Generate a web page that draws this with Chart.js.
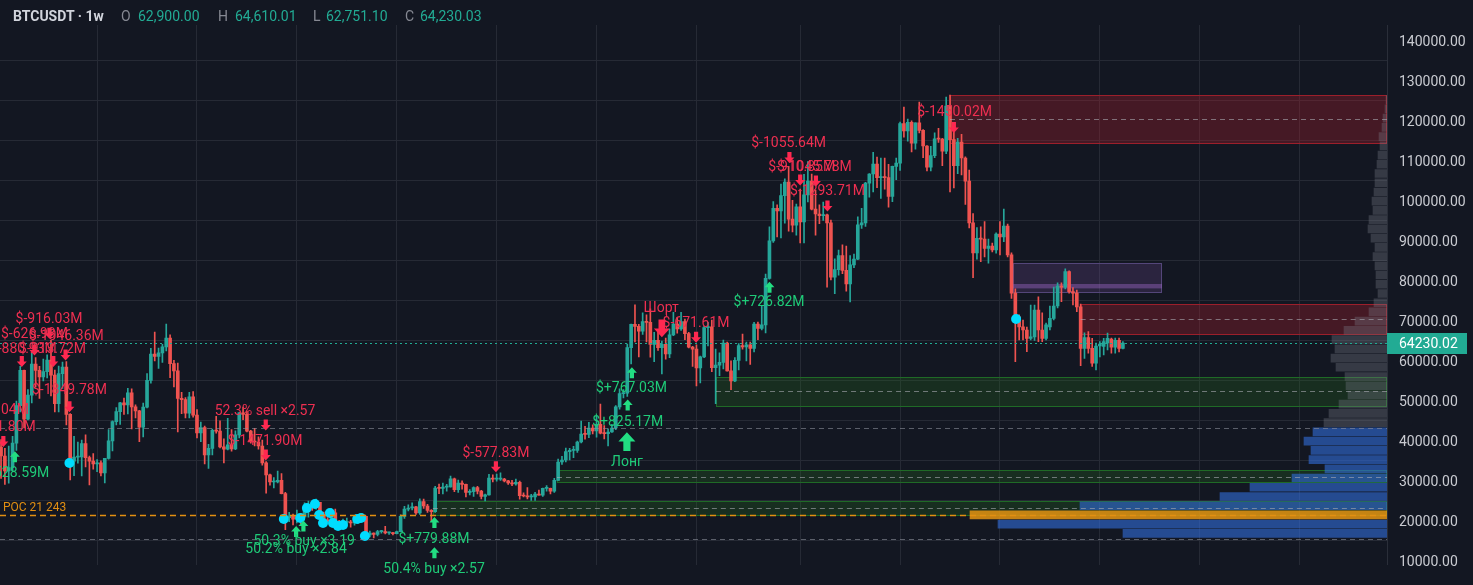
<!DOCTYPE html>
<html lang="en">
<head>
<meta charset="UTF-8">
<title>BTCUSDT · 1w</title>
<script src="https://cdn.jsdelivr.net/npm/chart.js@4.4.1/dist/chart.umd.min.js"></script>
<style>
    body {
        margin: 0;
        background: #131722;
        overflow: hidden;
        font-family: Roboto, sans-serif;
    }
    .wrap {
        position: relative;
        width: 1473px;
        height: 585px;
    }
    #chart {
        position: absolute;
        left: 0;
        top: 0;
    }
    .legend span {
        position: absolute;
        top: 7px;
        font-size: 14px;
        line-height: 18px;
        white-space: nowrap;
    }
    .legend .sym { color: #d1d4dc; font-weight: 700; }
    .legend .k { color: #868993; }
    .legend .v { color: #22ab94; }
</style>
</head>
<body>
<div class="wrap">
    <canvas id="chart" width="1473" height="585"></canvas>
    <div class="legend">
        <span class="sym" style="left:13px">BTCUSDT · 1w</span>
        <span class="k" style="left:121px">O</span><span class="v" style="left:138px">62,900.00</span>
        <span class="k" style="left:218px">H</span><span class="v" style="left:235px">64,610.01</span>
        <span class="k" style="left:313px">L</span><span class="v" style="left:326px">62,751.10</span>
        <span class="k" style="left:405px">C</span><span class="v" style="left:420px">64,230.03</span>
    </div>
</div>

<script>
    // weekly candles in thousands of USDT, bar 0 = week of 4 Jan 2021
    const opens = [
        33.0,38.2,36.0,32.3,33.1,39.2,48.6,57.4,45.2,51.2,59.0,57.4,55.8,57.1,60.0,56.2,49.1,56.6,58.2,46.4,34.7,35.7,35.8,39.1,35.6,34.7,34.0,34.3,31.8,35.4,39.8,44.6,47.1,49.3,48.8,51.8,48.3,47.3,43.2,48.2,54.9,61.5,60.9,61.8,63.3,65.5,59.1,57.3,50.4,50.1,46.7,50.8,
        46.2,41.8,43.1,36.3,37.9,42.4,42.2,38.3,37.7,38.8,37.8,41.3,46.8,46.4,42.2,39.7,39.5,38.5,34.3,31.3,29.5,29.5,29.9,26.6,20.6,21.0,20.2,20.9,20.8,22.6,23.6,23.2,24.4,21.5,20.0,19.8,21.8,19.4,18.8,19.4,19.4,19.3,19.6,20.8,20.9,16.3,16.7,16.4,17.1,17.1,16.8,16.8,
        16.6,17.1,20.9,22.7,23.0,23.3,21.8,24.6,23.5,22.4,22.1,28.0,27.9,28.2,28.3,30.3,27.6,29.2,28.9,26.9,27.1,28.1,27.2,25.9,26.3,30.5,30.2,30.2,30.2,29.8,29.3,29.0,29.4,26.1,26.0,25.8,25.8,26.5,26.2,27.9,27.9,27.2,29.9,34.5,35.0,37.1,37.4,37.4,39.5,41.5,41.4,43.0,
        42.3,43.9,41.7,41.6,42.0,43.0,48.3,51.6,51.7,63.1,68.9,68.4,67.2,69.6,69.4,63.9,64.9,63.1,63.9,61.5,66.3,69.0,67.8,69.6,66.6,63.2,62.7,58.0,60.8,68.1,68.3,58.1,58.7,59.4,64.2,57.3,54.8,59.9,63.6,63.3,63.8,62.9,69.0,67.9,68.8,80.4,89.8,97.9,97.3,101.1,104.5,95.2,93.7,
        98.3,94.5,101.3,104.7,97.7,96.5,96.1,96.3,94.3,80.7,82.6,86.1,82.4,79.0,83.8,85.2,93.8,94.3,104.2,106.5,109.0,105.6,105.7,105.6,100.9,108.4,109.2,119.1,117.3,119.4,114.2,119.3,117.4,113.5,108.2,111.1,115.3,115.2,112.2,123.5,
        115.1,108.6,114.5,110.5,104.7,94.3,86.8,90.4,90.2,87.9,88.5,87.5,91.5,90.8,93.5,86.3,76.7,70.8,68.3,67.5,65.4,65.8,72.5,67.5,65.4,68.3,70.4,73.5,78.5,78.2,82.1,77.1,76.7,73.3,62.9,65.6,62.9,59.2,63.5,63.4,64.3,65.2,63.2,64.9,62.9
    ];
    const highs = [
        41.9,40.1,37.9,38.5,40.9,49.7,58.4,57.5,52.6,61.8,60.6,58.4,60.2,61.3,64.9,57.5,58.5,59.5,59.6,46.6,40.9,39.5,40.0,41.3,36.0,36.6,35.1,34.8,35.4,42.6,44.8,48.1,49.4,50.5,52.9,52.8,48.8,47.4,49.2,56.6,62.9,67.0,63.0,63.9,69.0,66.3,59.9,59.2,51.9,50.6,51.9,52.1,
        47.6,44.5,43.5,38.9,42.7,45.9,44.8,40.3,45.4,42.6,42.3,46.9,48.2,47.2,42.4,42.9,40.8,40.0,34.6,31.5,30.6,32.2,31.6,26.9,21.9,21.5,22.5,21.6,24.3,24.7,23.7,25.2,24.4,22.0,20.6,22.8,22.7,19.9,20.2,20.5,19.9,19.7,21.1,21.5,21.0,17.2,16.8,17.4,17.4,18.4,17.0,16.9,
        17.2,21.3,23.4,23.8,24.3,23.4,25.3,25.2,23.9,22.6,28.4,29.0,29.2,28.9,31.0,30.5,30.0,29.8,29.0,27.6,28.3,28.4,27.4,26.5,31.4,31.3,31.5,31.8,30.4,29.9,29.9,30.2,29.7,26.8,28.1,26.4,26.9,27.5,28.0,28.6,28.0,30.4,35.2,35.9,38.0,37.9,38.4,39.7,44.7,43.4,44.4,43.8,
        45.9,49.0,43.6,42.8,43.9,48.6,52.8,52.6,64.0,69.0,73.8,68.9,71.8,71.3,72.8,66.9,67.2,64.7,65.5,67.7,71.9,70.6,71.9,70.2,66.9,63.4,63.8,61.0,68.4,69.4,70.0,62.7,61.8,65.0,64.5,59.8,60.6,64.1,66.5,64.5,64.5,69.4,69.5,73.6,81.5,93.3,99.6,98.8,104.0,105.3,108.4,99.9,99.0,
        102.7,106.4,109.6,106.5,102.5,98.8,99.5,96.5,95.0,85.3,87.5,88.8,88.5,86.1,86.5,95.8,97.9,104.4,106.6,111.9,110.7,110.5,110.5,108.9,108.5,110.5,119.5,123.2,120.2,119.8,119.3,124.5,117.6,113.6,113.4,116.8,117.9,115.4,125.7,126.2,
        118.0,115.4,116.4,110.8,107.5,96.6,93.1,93.3,94.6,90.2,89.2,91.8,94.6,97.7,94.0,86.8,77.8,71.3,70.0,68.2,73.7,73.7,75.8,71.8,69.2,73.5,78.2,79.3,79.3,82.8,82.3,78.1,77.5,74.0,66.8,67.1,65.4,64.2,64.6,65.4,66.7,65.5,65.5,65.5,64.61
    ];
    const lows = [
        28.1,30.4,28.9,29.2,32.3,37.4,47.0,43.0,45.0,49.3,53.3,50.4,54.8,55.5,51.0,47.0,47.0,52.9,43.8,30.0,31.1,34.2,31.0,33.3,28.8,32.7,32.1,31.0,29.3,35.2,37.3,43.8,43.9,46.4,46.5,42.8,45.5,39.6,40.8,48.0,54.2,59.8,57.9,59.4,62.3,55.6,53.3,42.0,46.6,45.5,45.5,45.7,
        40.5,39.6,34.0,32.9,36.3,41.7,38.0,34.3,37.5,37.2,37.6,40.5,45.1,42.0,39.2,38.5,37.7,33.7,26.7,28.7,28.0,29.3,26.5,17.6,19.6,18.8,19.3,18.9,20.7,20.7,22.4,22.7,20.8,19.8,19.5,18.5,19.3,18.1,18.5,19.1,18.2,18.7,19.2,20.0,15.6,15.8,15.5,16.0,16.7,16.5,16.4,16.3,
        16.5,17.1,20.4,22.3,22.5,21.4,21.4,22.9,21.9,19.6,21.9,26.6,26.5,27.2,28.2,27.1,26.9,27.7,25.8,26.3,25.9,26.5,25.3,24.8,26.2,29.5,29.7,29.9,29.5,28.9,28.6,28.7,25.2,25.8,25.3,24.9,24.9,26.2,25.9,27.2,26.5,26.9,29.9,33.9,34.5,35.0,35.6,36.9,39.3,40.2,40.6,41.5,
        40.7,41.5,40.3,38.5,41.9,42.6,47.7,50.5,50.9,59.0,64.5,60.8,66.4,64.5,60.7,59.6,62.4,56.5,60.2,60.6,66.1,66.7,67.4,65.1,63.0,58.4,53.5,54.3,60.6,63.5,57.1,49.1,56.1,57.8,57.2,52.6,54.6,57.5,62.7,59.8,58.9,62.0,65.1,67.5,66.8,80.2,89.4,90.8,90.5,94.2,92.2,92.0,91.2,
        89.3,89.3,99.5,97.5,91.2,94.1,94.9,78.2,80.0,76.6,81.2,81.6,77.2,74.5,83.1,85.1,92.9,93.4,100.7,102.0,103.1,100.4,102.7,98.2,99.6,105.1,107.4,115.7,114.7,112.0,112.7,116.8,110.6,107.3,107.3,110.6,114.4,108.6,111.6,102.0,
        103.0,106.6,106.3,98.9,93.0,80.6,85.2,84.6,85.8,84.2,87.0,86.7,86.25,89.6,85.8,75.4,59.6,65.0,65.0,62.1,65.0,64.9,64.6,64.6,65.0,67.5,70.0,73.0,74.6,77.8,76.7,73.75,72.1,58.6,60.4,61.7,58.4,57.5,60.8,61.3,62.5,61.7,61.7,62.0,62.751
    ];
    const closes = [
        38.2,36.0,32.3,33.1,39.2,48.6,57.4,45.2,51.2,59.0,57.4,55.8,57.1,60.0,56.2,49.1,56.6,58.2,46.4,34.7,35.7,35.8,39.1,35.6,34.7,34.0,34.3,31.8,35.4,39.8,44.6,47.1,49.3,48.8,51.8,48.3,47.3,43.2,48.2,54.9,61.5,60.9,61.8,63.3,65.5,59.1,57.3,50.4,50.1,46.7,50.8,46.2,
        41.8,43.1,36.3,37.9,42.4,42.2,38.3,37.7,38.8,37.8,41.3,46.8,46.4,42.2,39.7,39.5,38.5,34.3,31.3,29.5,29.5,29.9,26.6,20.6,21.0,20.2,20.9,20.8,22.6,23.6,23.2,24.4,21.5,20.0,19.8,21.8,19.4,18.8,19.4,19.4,19.3,19.6,20.8,20.9,16.3,16.7,16.4,17.1,17.1,16.8,16.8,16.6,
        17.1,20.9,22.7,23.0,23.3,21.8,24.6,23.5,22.4,22.1,28.0,27.9,28.2,28.3,30.3,27.6,29.2,28.9,26.9,27.1,28.1,27.2,25.9,26.3,30.5,30.2,30.2,30.2,29.8,29.3,29.0,29.4,26.1,26.0,25.8,25.8,26.5,26.2,27.9,27.9,27.2,29.9,34.5,35.0,37.1,37.4,37.4,39.5,41.5,41.4,43.0,42.3,
        43.9,41.7,41.6,42.0,43.0,48.3,51.6,51.7,63.1,68.9,68.4,67.2,69.6,69.4,63.9,64.9,63.1,63.9,61.5,66.3,69.0,67.8,69.6,66.6,63.2,62.7,58.0,60.8,68.1,68.3,58.1,58.7,59.4,64.2,57.3,54.8,59.9,63.6,63.3,63.8,62.9,69.0,67.9,68.8,80.4,89.8,97.9,97.3,101.1,104.5,95.2,93.7,98.3,
        94.5,101.3,104.7,97.7,96.5,96.1,96.3,94.3,80.7,82.6,86.1,82.4,79.0,83.8,85.2,93.8,94.3,104.2,106.5,109.0,105.6,105.7,105.6,100.9,108.4,109.2,119.1,117.3,119.4,114.2,119.3,117.4,113.5,108.2,111.1,115.3,115.2,112.2,123.5,115.1,
        108.6,114.5,110.5,104.7,94.3,86.8,90.4,90.2,87.9,88.5,87.5,91.5,90.8,93.5,86.3,76.7,70.8,68.3,67.5,65.4,65.8,72.5,67.5,65.4,68.8,70.4,73.5,78.5,78.2,82.1,77.1,76.7,73.3,62.9,65.6,62.9,59.2,63.5,64.0,64.6,65.4,63.2,64.9,62.9,64.23
    ];

    // price axis ticks (thousands) and time grid (first bar of Jan / Jul)
    const priceTicks = [10, 20, 30, 40, 50, 60, 70, 80, 90, 100, 110, 120, 130, 140];
    const gridWeeks = [26, 52, 78, 104, 130, 156, 182, 209, 235, 261, 287, 313, 339];

    // visible range volume profile: row centres (thousands) and row volume
    const profileRows = [16.65,18.96,21.27,23.57,25.88,28.19,30.49,32.80,35.11,37.41,39.72,42.03,44.34,46.64,48.95,51.26,53.56,55.87,58.18,60.48,62.79,65.10,67.40,69.71,72.02,74.32,76.63,78.94,81.25,83.55,85.86,88.17,90.47,92.78,95.09,97.39,99.70,102.01,104.31,106.62,108.93,111.23,113.54,115.85,118.16,120.46,122.77,125.08];
    const profileVol = [264,389,417,307,167,137,95,62,78,76,83,74,63,58,48,39,41,42,51,56,52,55,43,32,18,13,9,11,11,12,14,12,16,19,18,14,15,13,12,12,10,9,7,8,5,4,2,1];
    const pocRow = 2;
    const valueAreaTop = 11;

    const lastPrice = 64.23;
    const pocPrice = 21.243;
    const levelLines = [43.0, 15.25];

    // zones: start week, top, bottom, end week (null = open), mid line
    const zones = [
        { kind: 'red', from: 248.0, top: 126.25, bottom: 114.25, to: null, mid: 120.2 },
        { kind: 'purple', from: 264.4, top: 84.3, bottom: 77.1, to: 303.2, mid: null },
        { kind: 'red', from: 282.0, top: 74.0, bottom: 66.4, to: null, mid: 70.2 },
        { kind: 'green', from: 187.1, top: 55.75, bottom: 48.5, to: null, mid: 52.2 },
        { kind: 'green', from: 145.7, top: 32.5, bottom: 29.5, to: null, mid: 30.8 },
        { kind: 'green', from: 113.4, top: 24.8, bottom: 21.2, to: null, mid: 23.1 }
    ];
    const purpleBand = [79.0, 77.9];

    // signal markers: [week, price]
    const sellArrows = [[6.4,59.6],[9.7,62.5],[13.6,66.7],[14.6,59.6],[17.8,61.25],[18.8,48.3],[1.6,39.6],
        [69.9,43.75],[69.9,36.25],[129.8,33.3],[181.9,65.7],[206.2,110.6],[209,105],[213.1,104.75],[216.1,98.5],[249.0,118.1]];
    const buyArrows = [[4.6,35.8],[77.8,17.1],[79.7,18.5],[113.8,19.4],[113.8,11.8],[164.1,48.75],[165.2,56.8],[201,78.2]];
    const bigSell = [[173, 67.9]];
    const bigBuy = [[163.9, 39.6]];
    const dots = [[18.8,34.25],[74.6,20.25],[78.9,20.5],[80.6,23],[82.7,24],[83.8,21.25],[84.8,19.25],[86.6,21.75],
        [87.4,19.25],[88.7,18.5],[90.0,18.75],[93.7,20.25],[94.7,20.5],[95.7,16.0],[265.2,70.25]];

    // text labels: [week, price, text, side]
    const labels = [
        [13.5, 70.2, '$-916.03M', 's'],
        [9.7, 66.4, '$-626.98M', 's'],
        [18.0, 65.8, '$-1046.36M', 's'],
        [6.8, 62.75, '$-880.93M', 's'],
        [14.4, 62.75, '$-913.72M', 's'],
        [18.8, 52.3, '$-1849.78M', 's'],
        [-1.5, 47.5, '$-1031.04M', 's'],
        [0.3, 43.25, '$-1021.80M', 's'],
        [4.3, 31.75, '$+528.59M', 'b'],
        [69.7, 47.1, '52.3% sell ×2.57', 's'],
        [69.7, 39.6, '$-1471.90M', 's'],
        [129.8, 36.75, '$-577.83M', 's'],
        [172.8, 72.9, 'Шорт', 's'],
        [181.9, 69.25, '$-671.61M', 's'],
        [206.0, 114.25, '$-1055.64M', 's'],
        [209.4, 108.25, '$-910.85M', 's'],
        [212.7, 108.25, '$-1045.78M', 's'],
        [216.1, 102.25, '$-1293.71M', 's'],
        [249.2, 122.0, '$-1450.02M', 's'],
        [164.1, 44.3, '$+825.17M', 'b'],
        [163.9, 34.3, 'Лонг', 'b'],
        [165.1, 52.9, '$+767.03M', 'b'],
        [200.9, 74.3, '$+726.82M', 'b'],
        [113.7, 15.2, '$+779.88M', 'b'],
        [113.7, 7.7, '50.4% buy ×2.57', 'b'],
        [79.9, 14.6, '50.3% buy ×3.19', 'b'],
        [77.8, 12.7, '50.2% buy ×2.84', 'b']
    ];

    // screen calibration of the reference: bar spacing and price scale
    const PX_PER_WEEK = 3.842;
    const WEEK0_PX = -2.8;
    const ZERO_PRICE_PX = 600;
    const PX_PER_K = 4;

    const UP = '#26a69a';
    const DOWN = '#ef5350';
    const GRID = '#262a35';
    const zoneStyle = {
        red: { fill: 'rgba(178,30,42,0.32)', line: '#9c1f2b' },
        green: { fill: 'rgba(40,120,30,0.24)', line: '#1f6a26' },
        purple: { fill: 'rgba(120,80,160,0.24)', line: '#54467a' }
    };
    const textColor = { s: '#ee2f51', b: '#1fcb78' };
    const arrowColor = { s: '#ff2850', b: '#22dd82' };

    const candleColors = closes.map((c, i) => c >= opens[i] ? UP : DOWN);
    const profileColors = profileVol.map((v, i) => i === pocRow ? 'rgba(228,148,18,0.85)'
        : i <= valueAreaTop ? 'rgba(50,110,220,0.6)' : 'rgba(120,123,134,0.35)');

    function drawArrow(ctx, px, py, up, size, color) {
        const w = size, h = size * 1.1, sw = size * 0.42, s = up ? 1 : -1;
        ctx.fillStyle = color;
        ctx.beginPath();
        ctx.moveTo(px, py - s * h / 2);
        ctx.lineTo(px + w / 2, py);
        ctx.lineTo(px + sw / 2, py);
        ctx.lineTo(px + sw / 2, py + s * h / 2);
        ctx.lineTo(px - sw / 2, py + s * h / 2);
        ctx.lineTo(px - sw / 2, py);
        ctx.lineTo(px - w / 2, py);
        ctx.closePath();
        ctx.fill();
    }

    function hLine(ctx, area, py, color, dash, width) {
        ctx.strokeStyle = color;
        ctx.lineWidth = width;
        ctx.setLineDash(dash);
        ctx.beginPath();
        ctx.moveTo(area.left, Math.round(py) + 0.5);
        ctx.lineTo(area.right, Math.round(py) + 0.5);
        ctx.stroke();
    }

    const overlay = {
        id: 'overlay',
        beforeDatasetsDraw(chart) {
            const { ctx, chartArea: a, scales: { x, y } } = chart;
            ctx.save();
            zones.forEach(z => {
                const x0 = Math.round(x.getPixelForValue(z.from));
                const x1 = z.to == null ? a.right : Math.round(x.getPixelForValue(z.to));
                const y0 = Math.round(y.getPixelForValue(z.top));
                const y1 = Math.round(y.getPixelForValue(z.bottom));
                ctx.fillStyle = zoneStyle[z.kind].fill;
                ctx.fillRect(x0, y0, x1 - x0, y1 - y0);
                ctx.strokeStyle = zoneStyle[z.kind].line;
                ctx.lineWidth = 1;
                ctx.strokeRect(x0 + 0.5, y0 + 0.5, x1 - x0 - 1, y1 - y0);
                if (z.kind === 'purple') {
                    const b0 = y.getPixelForValue(purpleBand[0]);
                    const b1 = y.getPixelForValue(purpleBand[1]);
                    ctx.fillStyle = 'rgba(150,100,190,0.45)';
                    ctx.fillRect(x0, b0, x1 - x0, b1 - b0);
                }
            });
            ctx.restore();
        },
        afterDatasetsDraw(chart) {
            const { ctx, chartArea: a, scales: { x, y } } = chart;
            ctx.save();
            // zone mid lines
            zones.forEach(z => {
                if (z.mid == null) return;
                const x0 = x.getPixelForValue(z.from);
                const x1 = z.to == null ? a.right : x.getPixelForValue(z.to);
                hLine(ctx, { left: x0, right: x1 }, y.getPixelForValue(z.mid), 'rgba(170,172,180,0.6)', [5, 4], 1);
            });
            levelLines.forEach(p => hLine(ctx, a, y.getPixelForValue(p), 'rgba(140,143,155,0.6)', [5, 4], 1));
            hLine(ctx, a, y.getPixelForValue(pocPrice), '#e28f12', [6, 4], 1.5);
            hLine(ctx, a, y.getPixelForValue(lastPrice), '#22ab94', [2, 3], 1);
            ctx.setLineDash([]);

            ctx.font = '12px Roboto, sans-serif';
            ctx.fillStyle = '#e28f12';
            ctx.textAlign = 'left';
            ctx.textBaseline = 'middle';
            ctx.fillText('POC 21 243', a.left + 3, y.getPixelForValue(pocPrice) - 7);

            sellArrows.forEach(p => drawArrow(ctx, x.getPixelForValue(p[0]), y.getPixelForValue(p[1]), false, 10, arrowColor.s));
            buyArrows.forEach(p => drawArrow(ctx, x.getPixelForValue(p[0]), y.getPixelForValue(p[1]), true, 10, arrowColor.b));
            bigSell.forEach(p => drawArrow(ctx, x.getPixelForValue(p[0]), y.getPixelForValue(p[1]), false, 16, arrowColor.s));
            bigBuy.forEach(p => drawArrow(ctx, x.getPixelForValue(p[0]), y.getPixelForValue(p[1]), true, 17, arrowColor.b));

            ctx.font = '14px Roboto, sans-serif';
            ctx.textAlign = 'center';
            labels.forEach(l => {
                ctx.fillStyle = textColor[l[3]];
                ctx.fillText(l[2], x.getPixelForValue(l[0]), y.getPixelForValue(l[1]));
            });
            ctx.restore();
        },
        afterDraw(chart) {
            const { ctx, chartArea: a, scales: { y } } = chart;
            const py = y.getPixelForValue(lastPrice);
            ctx.save();
            ctx.fillStyle = '#22ab94';
            ctx.fillRect(a.right, Math.round(py) - 10, 80, 21);
            ctx.fillStyle = '#ffffff';
            ctx.font = '14px Roboto, sans-serif';
            ctx.textAlign = 'left';
            ctx.textBaseline = 'middle';
            ctx.fillText((lastPrice * 1000 + 0.02).toFixed(2), a.right + 12, Math.round(py) + 1);
            ctx.restore();
        }
    };

    const chart = new Chart(document.getElementById('chart'), {
        type: 'bar',
        data: {
            datasets: [
                {
                    type: 'scatter',
                    data: dots.map(d => ({ x: d[0], y: d[1] })),
                    pointRadius: 5,
                    pointBackgroundColor: '#00dcff',
                    pointBorderWidth: 0,
                    xAxisID: 'x',
                    yAxisID: 'y',
                    order: 0
                },
                {
                    data: opens.map((o, i) => ({ x: i, y: [o, closes[i]] })),
                    backgroundColor: candleColors,
                    barThickness: 3,
                    minBarLength: 1,
                    grouped: false,
                    xAxisID: 'x',
                    yAxisID: 'y',
                    order: 1
                },
                {
                    data: lows.map((l, i) => ({ x: i, y: [l, highs[i]] })),
                    backgroundColor: candleColors,
                    barThickness: 1,
                    grouped: false,
                    xAxisID: 'x',
                    yAxisID: 'y',
                    order: 2
                },
                {
                    indexAxis: 'y',
                    data: profileRows.map((r, i) => ({ x: profileVol[i], y: r })),
                    backgroundColor: profileColors,
                    barThickness: 8,
                    grouped: false,
                    xAxisID: 'xv',
                    yAxisID: 'y',
                    order: 3
                }
            ]
        },
        options: {
            responsive: false,
            devicePixelRatio: 1,
            animation: false,
            events: [],
            layout: { autoPadding: false, padding: { top: 25, left: 0, right: 0, bottom: 0 } },
            plugins: {
                legend: { display: false },
                tooltip: { enabled: false }
            },
            scales: {
                x: {
                    type: 'linear',
                    min: -0.73,
                    max: 360.27,
                    offset: false,
                    afterBuildTicks: s => { s.ticks = gridWeeks.map(v => ({ value: v })); },
                    afterFit: s => { s.height = 0; },
                    ticks: { display: false },
                    grid: { color: GRID, drawTicks: false, offset: false },
                    border: { display: false }
                },
                xv: {
                    type: 'linear',
                    axis: 'x',
                    display: false,
                    reverse: true,
                    min: 0,
                    max: 1387,
                    offset: false
                },
                y: {
                    type: 'linear',
                    position: 'right',
                    min: 3.75,
                    max: 143.75,
                    offset: false,
                    afterBuildTicks: s => { s.ticks = priceTicks.map(v => ({ value: v })); },
                    afterFit: s => { s.width = 86; },
                    ticks: {
                        padding: 12,
                        labelOffset: 2,
                        color: '#c9cbd1',
                        font: { family: 'Roboto, sans-serif', size: 14 },
                        callback: v => (v * 1000).toFixed(2)
                    },
                    grid: { color: GRID, drawTicks: false },
                    border: { color: '#2a2e39' }
                }
            }
        },
        plugins: [overlay]
    });

    // match the axes ranges to the plot box actually laid out
    const area = chart.chartArea;
    const sc = chart.options.scales;
    sc.x.min = (area.left - WEEK0_PX) / PX_PER_WEEK;
    sc.x.max = (area.right - WEEK0_PX) / PX_PER_WEEK;
    sc.y.max = (ZERO_PRICE_PX - area.top) / PX_PER_K;
    sc.y.min = (ZERO_PRICE_PX - area.bottom) / PX_PER_K;
    sc.xv.max = area.right - area.left;
    chart.update();
</script>
</body>
</html>
